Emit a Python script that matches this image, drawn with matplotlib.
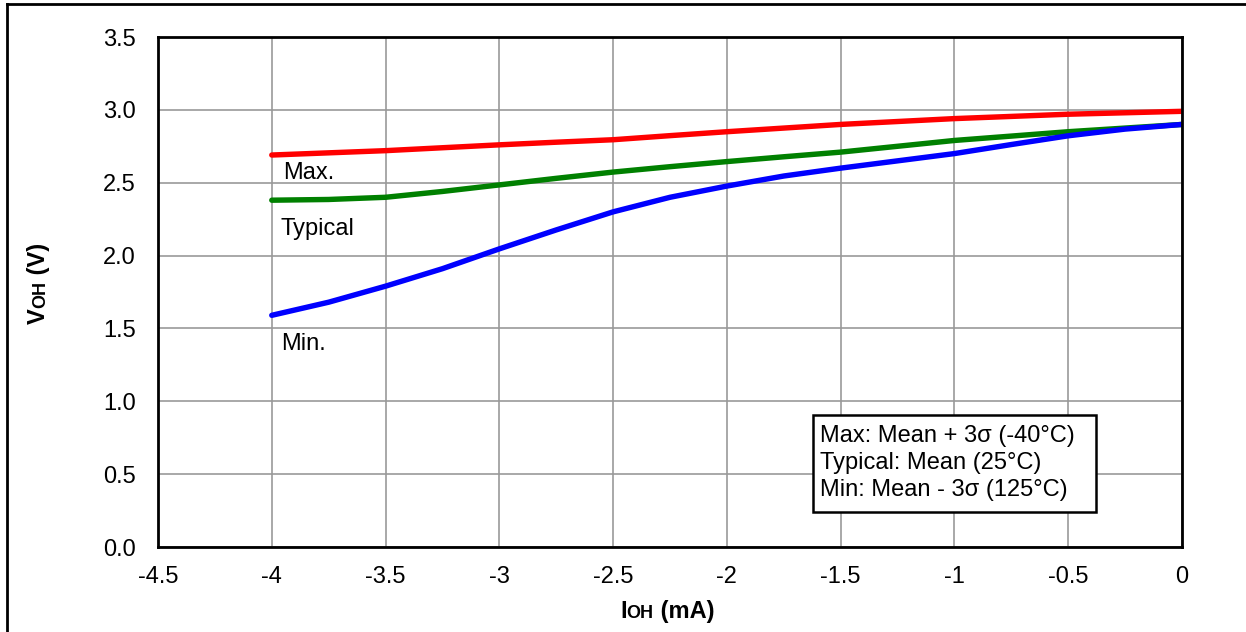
import matplotlib
matplotlib.use("Agg")
import matplotlib.pyplot as plt
from matplotlib.patches import Rectangle
from matplotlib.lines import Line2D

plt.rcParams['font.family'] = ['Liberation Sans', 'DejaVu Sans']

# Data
i_oh = [-4.0, -3.75, -3.5, -3.25, -3.0, -2.75, -2.5, -2.25, -2.0, -1.75,
        -1.5, -1.25, -1.0, -0.75, -0.5, -0.25, 0.0]
v_max = [2.69, 2.705, 2.72, 2.74, 2.76, 2.778, 2.795, 2.823, 2.85, 2.875,
         2.90, 2.92, 2.94, 2.955, 2.97, 2.98, 2.99]
v_typ = [2.38, 2.385, 2.40, 2.44, 2.485, 2.53, 2.573, 2.61, 2.645, 2.678,
         2.71, 2.75, 2.79, 2.82, 2.85, 2.875, 2.90]
v_min = [1.59, 1.68, 1.79, 1.91, 2.046, 2.176, 2.30, 2.40, 2.477, 2.546,
         2.60, 2.65, 2.70, 2.762, 2.822, 2.868, 2.90]
x_ticks = [-4.5, -4, -3.5, -3, -2.5, -2, -1.5, -1, -0.5, 0]
x_tick_labels = ['-4.5', '-4', '-3.5', '-3', '-2.5', '-2', '-1.5', '-1', '-0.5', '0']
y_ticks = [0.0, 0.5, 1.0, 1.5, 2.0, 2.5, 3.0, 3.5]
y_tick_labels = ['0.0', '0.5', '1.0', '1.5', '2.0', '2.5', '3.0', '3.5']
legend_lines = ['Max: Mean + 3\u03c3 (-40\u00b0C)', 'Typical: Mean (25\u00b0C)',
                'Min: Mean - 3\u03c3 (125\u00b0C)']

FS = 17
W, H = 1246, 632
fig = plt.figure(figsize=(W / 100, H / 100), dpi=100)
ax = fig.add_axes([158 / W, 1 - 547 / H, (1182 - 158) / W, (547 - 37) / H])

ax.plot(i_oh, v_max, color='#FF0000', lw=3.9, solid_capstyle='round', zorder=5)
ax.plot(i_oh, v_typ, color='#008000', lw=3.9, solid_capstyle='round', zorder=4)
ax.plot(i_oh, v_min, color='#0000FF', lw=3.9, solid_capstyle='round', zorder=6)

ax.set_xlim(-4.5, 0)
ax.set_ylim(0, 3.5)
ax.set_xticks(x_ticks)
ax.set_xticklabels(x_tick_labels)
ax.set_yticks(y_ticks)
ax.set_yticklabels(y_tick_labels)
ax.tick_params(length=0, labelsize=FS, colors='black')
ax.tick_params(axis='x', pad=14)
ax.tick_params(axis='y', pad=16)
ax.grid(True, color='#999999', lw=1.2)
ax.set_axisbelow(True)
for s in ax.spines.values():
    s.set_linewidth(2)
    s.set_color('black')
    s.set_zorder(7)

# curve labels
ax.text(-3.95, 2.57, 'Max.', fontsize=FS, va='center', ha='left')
ax.text(-3.96, 2.18, 'Typical', fontsize=FS, va='center', ha='left')
ax.text(-3.96, 1.39, 'Min.', fontsize=FS, va='center', ha='left')

# legend box
ax.add_patch(Rectangle((0.6396, 0.0686), 0.916 - 0.6396, 0.2588 - 0.0686,
                       transform=ax.transAxes, fill=True, facecolor='white',
                       edgecolor='black', lw=1.8, zorder=8))
for yy, t in zip([0.2176, 0.1647, 0.1118], legend_lines):
    ax.text(0.6465, yy, t, transform=ax.transAxes, fontsize=FS,
            va='center', ha='left', zorder=9)

renderer = fig.canvas.get_renderer()

# x label: I OH (mA), baseline-aligned pieces
x = 620 / W
y = 1 - 618 / H
for txt, fs in [('I', 17), ('OH', 13), (' (mA)', 17)]:
    t = fig.text(x, y, txt, fontsize=fs, fontweight='bold', ha='left', va='baseline')
    ext = t.get_window_extent(renderer)
    x += ext.width / W

# y label: V OH (V), rotated, baseline-aligned pieces
x = 45 / W
y = 1 - 324 / H
for txt, fs in [('V', 17), ('OH', 13), (' (V)', 17)]:
    t = fig.text(x, y, txt, fontsize=fs, fontweight='bold', rotation=90,
                 rotation_mode='anchor', ha='left', va='baseline')
    ext = t.get_window_extent(renderer)
    y += ext.height / H

# figure frame
fig.add_artist(Line2D([7 / W, 7 / W], [0, 1 - 4 / H], transform=fig.transFigure,
                      color='black', lw=2))
fig.add_artist(Line2D([7 / W, 1], [1 - 4 / H, 1 - 4 / H], transform=fig.transFigure,
                      color='black', lw=2))

fig.savefig('out.png', dpi=100)
